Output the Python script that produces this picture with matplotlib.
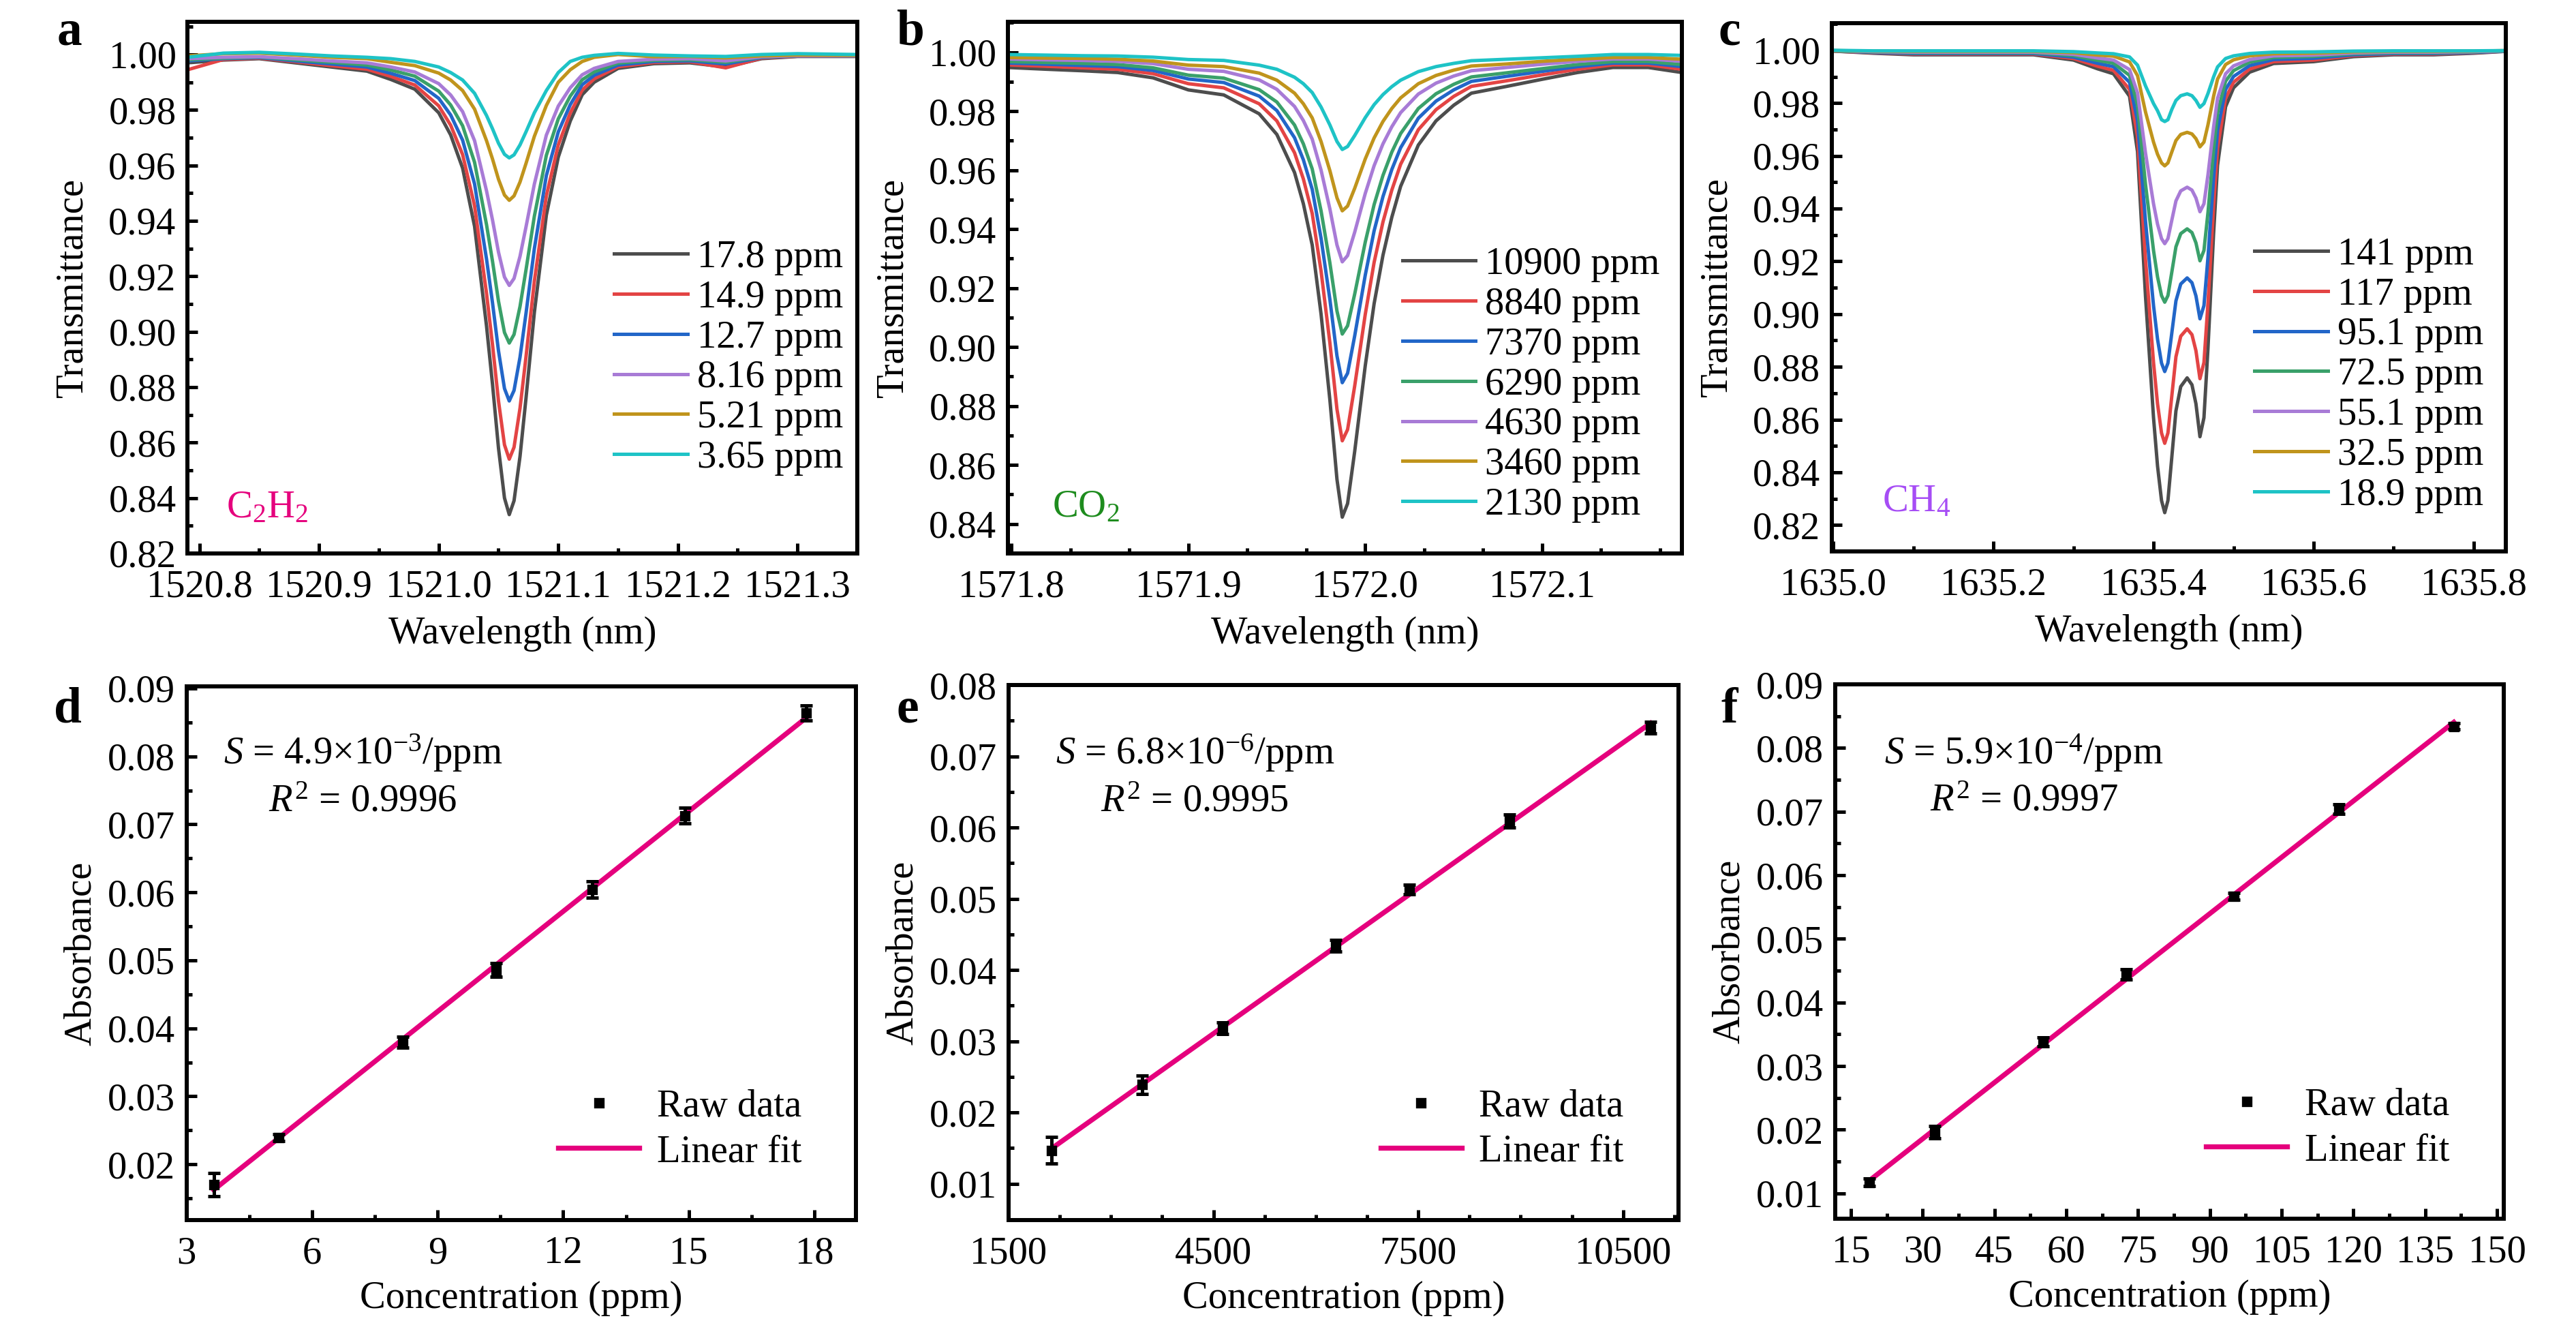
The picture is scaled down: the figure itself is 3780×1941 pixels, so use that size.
import numpy as np
import matplotlib.pyplot as plt
from matplotlib.ticker import MultipleLocator, AutoMinorLocator, FormatStrFormatter

plt.rcParams['font.family'] = ['Liberation Serif', 'DejaVu Serif']
plt.rcParams['mathtext.fontset'] = 'custom'
plt.rcParams['mathtext.rm'] = 'Liberation Serif'
plt.rcParams['mathtext.it'] = 'Liberation Serif:italic'
plt.rcParams['font.size'] = 17

# ---- spectra (a) C2H2 ----
wl_c2h2 = [1520.79, 1520.82, 1520.85, 1520.88, 1520.91, 1520.94, 1520.96, 1520.98, 1521.00, 1521.01,
           1521.02, 1521.03, 1521.04, 1521.045, 1521.05, 1521.055, 1521.059, 1521.063, 1521.068, 1521.073,
           1521.08, 1521.09, 1521.10, 1521.11, 1521.12, 1521.13, 1521.15, 1521.18, 1521.21, 1521.24,
           1521.27, 1521.30, 1521.35]
labels_c2h2 = ['17.8 ppm', '14.9 ppm', '12.7 ppm', '_nolegend_', '8.16 ppm', '5.21 ppm', '3.65 ppm']
trans_c2h2 = [
    [0.9970, 0.9980, 0.9985, 0.9970, 0.9955, 0.9940, 0.9910, 0.9875, 0.9790, 0.9710, 0.9590, 0.9380, 0.9020, 0.8810, 0.8580, 0.8400, 0.8340,
     0.8390, 0.8550, 0.8760, 0.9070, 0.9420, 0.9630, 0.9760, 0.9855, 0.9900, 0.9950, 0.9967, 0.9970, 0.9955, 0.9985, 0.9993, 0.9993],
    [0.9945, 0.9982, 0.9987, 0.9974, 0.9960, 0.9947, 0.9921, 0.9890, 0.9815, 0.9745, 0.9639, 0.9454, 0.9138, 0.8953, 0.8750, 0.8592, 0.8540,
     0.8583, 0.8724, 0.8909, 0.9182, 0.9490, 0.9674, 0.9789, 0.9872, 0.9912, 0.9956, 0.9971, 0.9974, 0.9952, 0.9987, 0.9994, 0.9994],
    [0.9977, 0.9985, 0.9989, 0.9977, 0.9966, 0.9955, 0.9932, 0.9906, 0.9842, 0.9782, 0.9691, 0.9533, 0.9262, 0.9104, 0.8931, 0.8795, 0.8750,
     0.8788, 0.8908, 0.9066, 0.9300, 0.9563, 0.9721, 0.9819, 0.9891, 0.9925, 0.9962, 0.9975, 0.9977, 0.9966, 0.9989, 0.9995, 0.9995],
    [0.9981, 0.9987, 0.9991, 0.9981, 0.9972, 0.9962, 0.9944, 0.9922, 0.9868, 0.9818, 0.9743, 0.9611, 0.9386, 0.9254, 0.9110, 0.8997, 0.8959,
     0.8990, 0.9091, 0.9223, 0.9417, 0.9636, 0.9768, 0.9850, 0.9909, 0.9937, 0.9969, 0.9979, 0.9981, 0.9972, 0.9991, 0.9996, 0.9996],
    [0.9985, 0.9990, 0.9992, 0.9985, 0.9977, 0.9970, 0.9955, 0.9937, 0.9895, 0.9854, 0.9794, 0.9689, 0.9508, 0.9403, 0.9287, 0.9197, 0.9167,
     0.9192, 0.9272, 0.9378, 0.9533, 0.9709, 0.9814, 0.9880, 0.9927, 0.9950, 0.9975, 0.9983, 0.9985, 0.9977, 0.9992, 0.9996, 0.9996],
    [0.9995, 1.0003, 1.0005, 0.9998, 0.9990, 0.9985, 0.9972, 0.9960, 0.9933, 0.9908, 0.9870, 0.9803, 0.9689, 0.9623, 0.9550, 0.9493, 0.9474,
     0.9490, 0.9540, 0.9607, 0.9705, 0.9816, 0.9900, 0.9945, 0.9975, 0.9990, 1.0000, 0.9992, 0.9993, 0.9988, 0.9995, 0.9998, 0.9997],
    [0.9990, 1.0005, 1.0008, 1.0002, 0.9995, 0.9990, 0.9985, 0.9975, 0.9955, 0.9935, 0.9908, 0.9860, 0.9780, 0.9732, 0.9680, 0.9640, 0.9627,
     0.9638, 0.9674, 0.9721, 0.9790, 0.9870, 0.9935, 0.9975, 0.9990, 0.9997, 1.0004, 0.9998, 0.9995, 0.9993, 1.0000, 1.0003, 1.0000],
]

# ---- spectra (b) CO2 ----
wl_co2 = [1571.798, 1571.82, 1571.84, 1571.86, 1571.88, 1571.90, 1571.92, 1571.94, 1571.95, 1571.96,
          1571.965, 1571.97, 1571.975, 1571.98, 1571.984, 1571.987, 1571.990, 1571.994, 1572.000, 1572.005,
          1572.010, 1572.015, 1572.020, 1572.030, 1572.040, 1572.050, 1572.060, 1572.080, 1572.100, 1572.120,
          1572.140, 1572.160, 1572.179]
labels_co2 = ['10900 ppm', '8840 ppm', '7370 ppm', '6290 ppm', '4630 ppm', '3460 ppm', '2130 ppm']
trans_co2 = [
    [0.9948, 0.9942, 0.9937, 0.9931, 0.9913, 0.9872, 0.9855, 0.9791, 0.9721, 0.9592, 0.9486, 0.9346, 0.9112, 0.8820, 0.8551, 0.8423, 0.8469,
     0.8645, 0.8937, 0.9147, 0.9311, 0.9440, 0.9545, 0.9685, 0.9767, 0.9820, 0.9861, 0.9884, 0.9908, 0.9931, 0.9948, 0.9948, 0.9931],
    [0.9957, 0.9952, 0.9947, 0.9942, 0.9927, 0.9893, 0.9879, 0.9825, 0.9767, 0.9659, 0.9570, 0.9453, 0.9258, 0.9014, 0.8789, 0.8682, 0.8720,
     0.8867, 0.9111, 0.9287, 0.9424, 0.9532, 0.9620, 0.9737, 0.9805, 0.9850, 0.9884, 0.9903, 0.9923, 0.9942, 0.9957, 0.9957, 0.9942],
    [0.9963, 0.9959, 0.9955, 0.9951, 0.9938, 0.9909, 0.9897, 0.9851, 0.9802, 0.9710, 0.9635, 0.9535, 0.9369, 0.9161, 0.8970, 0.8879, 0.8911,
     0.9037, 0.9244, 0.9394, 0.9510, 0.9602, 0.9676, 0.9776, 0.9834, 0.9872, 0.9901, 0.9918, 0.9935, 0.9951, 0.9963, 0.9963, 0.9951],
    [0.9968, 0.9965, 0.9962, 0.9958, 0.9947, 0.9922, 0.9912, 0.9873, 0.9831, 0.9753, 0.9689, 0.9604, 0.9462, 0.9285, 0.9122, 0.9044, 0.9072,
     0.9179, 0.9356, 0.9483, 0.9582, 0.9661, 0.9724, 0.9809, 0.9859, 0.9891, 0.9916, 0.9930, 0.9944, 0.9958, 0.9968, 0.9968, 0.9958],
    [0.9977, 0.9974, 0.9972, 0.9969, 0.9961, 0.9942, 0.9935, 0.9906, 0.9874, 0.9816, 0.9768, 0.9705, 0.9600, 0.9468, 0.9346, 0.9289, 0.9310,
     0.9389, 0.9521, 0.9615, 0.9689, 0.9747, 0.9795, 0.9858, 0.9895, 0.9919, 0.9937, 0.9948, 0.9959, 0.9969, 0.9977, 0.9977, 0.9969],
    [0.9982, 0.9980, 0.9979, 0.9976, 0.9970, 0.9956, 0.9951, 0.9929, 0.9905, 0.9861, 0.9825, 0.9777, 0.9697, 0.9598, 0.9506, 0.9462, 0.9478,
     0.9538, 0.9638, 0.9709, 0.9765, 0.9809, 0.9845, 0.9893, 0.9921, 0.9939, 0.9953, 0.9960, 0.9969, 0.9976, 0.9982, 0.9982, 0.9976],
    [0.9992, 0.9990, 0.9988, 0.9987, 0.9983, 0.9975, 0.9972, 0.9956, 0.9942, 0.9915, 0.9893, 0.9863, 0.9814, 0.9753, 0.9697, 0.9670, 0.9680,
     0.9717, 0.9778, 0.9822, 0.9856, 0.9883, 0.9905, 0.9934, 0.9951, 0.9962, 0.9971, 0.9976, 0.9981, 0.9986, 0.9992, 0.9992, 0.9989],
]

# ---- spectra (c) CH4 ----
wl_ch4 = [1635.00, 1635.05, 1635.10, 1635.15, 1635.20, 1635.25, 1635.30, 1635.33, 1635.35, 1635.37,
          1635.38, 1635.39, 1635.40, 1635.405, 1635.410, 1635.414, 1635.418, 1635.423, 1635.428, 1635.434,
          1635.442, 1635.448, 1635.453, 1635.458, 1635.463, 1635.468, 1635.475, 1635.48, 1635.49, 1635.50,
          1635.52, 1635.55, 1635.60, 1635.65, 1635.70, 1635.75, 1635.80, 1635.84]
labels_ch4 = ['141 ppm', '117 ppm', '95.1 ppm', '72.5 ppm', '55.1 ppm', '32.5 ppm', '18.9 ppm']
trans_ch4 = [
    [0.9997, 0.9989, 0.9983, 0.9983, 0.9983, 0.9983, 0.9963, 0.9930, 0.9911, 0.9826, 0.9616, 0.9066, 0.8607, 0.8424, 0.8293, 0.8247, 0.8293, 0.8463, 0.8633,
     0.8725, 0.8758, 0.8732, 0.8660, 0.8535, 0.8607, 0.8869, 0.9302, 0.9564, 0.9786, 0.9858, 0.9917, 0.9950, 0.9957, 0.9976, 0.9983, 0.9983, 0.9989, 0.9996],
    [0.9997, 0.9991, 0.9986, 0.9986, 0.9986, 0.9986, 0.9969, 0.9940, 0.9924, 0.9852, 0.9674, 0.9206, 0.8816, 0.8660, 0.8549, 0.8510, 0.8549, 0.8694, 0.8838,
     0.8916, 0.8944, 0.8922, 0.8861, 0.8755, 0.8816, 0.9039, 0.9407, 0.9629, 0.9818, 0.9879, 0.9929, 0.9957, 0.9963, 0.9980, 0.9986, 0.9986, 0.9991, 0.9997],
    [0.9998, 0.9992, 0.9988, 0.9988, 0.9988, 0.9988, 0.9974, 0.9951, 0.9938, 0.9879, 0.9733, 0.9351, 0.9032, 0.8905, 0.8814, 0.8782, 0.8814, 0.8932, 0.9050,
     0.9114, 0.9137, 0.9119, 0.9069, 0.8982, 0.9032, 0.9214, 0.9515, 0.9697, 0.9851, 0.9901, 0.9942, 0.9965, 0.9970, 0.9983, 0.9988, 0.9988, 0.9992, 0.9997],
    [0.9998, 0.9994, 0.9991, 0.9991, 0.9991, 0.9991, 0.9980, 0.9962, 0.9951, 0.9905, 0.9791, 0.9491, 0.9241, 0.9141, 0.9070, 0.9045, 0.9070, 0.9162, 0.9255,
     0.9305, 0.9323, 0.9309, 0.9270, 0.9202, 0.9241, 0.9384, 0.9620, 0.9762, 0.9883, 0.9923, 0.9955, 0.9973, 0.9977, 0.9987, 0.9991, 0.9991, 0.9994, 0.9998],
    [0.9999, 0.9995, 0.9993, 0.9993, 0.9993, 0.9993, 0.9985, 0.9971, 0.9963, 0.9927, 0.9839, 0.9610, 0.9418, 0.9341, 0.9286, 0.9267, 0.9286, 0.9358, 0.9429,
     0.9467, 0.9481, 0.9470, 0.9440, 0.9388, 0.9418, 0.9527, 0.9708, 0.9818, 0.9911, 0.9941, 0.9965, 0.9979, 0.9982, 0.9990, 0.9993, 0.9993, 0.9995, 0.9998],
    [0.9999, 0.9997, 0.9996, 0.9996, 0.9996, 0.9996, 0.9991, 0.9982, 0.9978, 0.9956, 0.9904, 0.9766, 0.9652, 0.9606, 0.9573, 0.9562, 0.9573, 0.9616, 0.9658,
     0.9681, 0.9689, 0.9683, 0.9665, 0.9634, 0.9652, 0.9717, 0.9825, 0.9891, 0.9946, 0.9964, 0.9979, 0.9987, 0.9989, 0.9994, 0.9996, 0.9996, 0.9997, 0.9999],
    [1.0000, 0.9998, 0.9998, 0.9998, 0.9998, 0.9998, 0.9995, 0.9990, 0.9987, 0.9975, 0.9944, 0.9865, 0.9798, 0.9771, 0.9737, 0.9730, 0.9737, 0.9777, 0.9810,
     0.9828, 0.9835, 0.9828, 0.9810, 0.9784, 0.9798, 0.9836, 0.9899, 0.9937, 0.9969, 0.9979, 0.9988, 0.9993, 0.9994, 0.9997, 0.9998, 0.9998, 0.9998, 0.9999],
]

# ---- calibration data (d-f) ----
conc_c2h2 = [3.65, 5.21, 8.16, 10.4, 12.7, 14.9, 17.8]
abs_c2h2 = [0.0170, 0.0239, 0.0380, 0.0486, 0.0604, 0.0713, 0.0864]
err_c2h2 = [0.0017, 0.0005, 0.0008, 0.0010, 0.0012, 0.0012, 0.0011]

conc_co2 = [2130, 3460, 4630, 6290, 7370, 8840, 10900]
abs_co2 = [0.0147, 0.0239, 0.0318, 0.0434, 0.0513, 0.0609, 0.0740]
err_co2 = [0.0019, 0.0013, 0.0008, 0.0008, 0.0007, 0.0009, 0.0008]

conc_ch4 = [18.9, 32.5, 55.1, 72.5, 95.1, 117, 141]
abs_ch4 = [0.0117, 0.0196, 0.0338, 0.0444, 0.0567, 0.0704, 0.0834]
err_ch4 = [0.0006, 0.0010, 0.0007, 0.0008, 0.0005, 0.0008, 0.0005]

xticks_c2h2 = [3, 6, 9, 12, 15, 18]
xticks_co2 = [1500, 4500, 7500, 10500]
xticks_ch4 = [15, 30, 45, 60, 75, 90, 105, 120, 135, 150]

colors = ['#4D4D4D', '#E34444', '#2266C8', '#3AA06A', '#A87BD6', '#C0941C', '#1EC3C6']
pink = '#E5007D'


def style(ax):
    for s in ax.spines.values():
        s.set_linewidth(1.8)
    ax.tick_params(which='both', direction='in', top=False, right=False, width=1.5)
    ax.tick_params(which='major', length=4.5)
    ax.tick_params(which='minor', length=2.5)
    ax.tick_params(axis='x', pad=7)
    ax.tick_params(axis='y', pad=5)


fig = plt.figure(figsize=(15.75, 8.0875), dpi=240)

top_pos = [[0.0728, 0.5817, 0.2600, 0.4016],
           [0.3913, 0.5817, 0.2616, 0.4016],
           [0.7111, 0.5832, 0.2616, 0.3993]]
bot_pos = [[0.0724, 0.0778, 0.2600, 0.4034],
           [0.3915, 0.0778, 0.2601, 0.4044],
           [0.7124, 0.0788, 0.2595, 0.4039]]

spectra = [
    (wl_c2h2, trans_c2h2, labels_c2h2, (1520.79, 1521.35), (0.82, 1.0117), 0.82, 0.1, 2,
     r'C$_2$H$_2$', pink, (0.058, 0.068), (0.637, 0.59)),
    (wl_co2, trans_co2, labels_co2, (1571.798, 1572.179), (0.83, 1.0102), 0.84, 0.1, 3,
     r'CO$_2$', '#1E8C1E', (0.066, 0.069), (0.585, 0.577)),
    (wl_ch4, trans_ch4, labels_ch4, (1634.998, 1635.84), (0.81, 1.0103), 0.82, 0.2, 2,
     r'CH$_4$', '#A64DF5', (0.075, 0.076), (0.627, 0.595)),
]

for pos, (wl, trans, labels, xl, yl, ymin_tick, xstep, nminor, gas, gcol, gxy, lxy) in zip(top_pos, spectra):
    ax = fig.add_axes(pos)
    for t, c, lab in zip(trans, colors, labels):
        ax.plot(wl, t, color=c, lw=1.5, label=lab)
    ax.set_xlim(*xl)
    ax.set_ylim(*yl)
    ax.xaxis.set_major_locator(MultipleLocator(xstep))
    ax.xaxis.set_minor_locator(AutoMinorLocator(nminor))
    ax.xaxis.set_major_formatter(FormatStrFormatter('%.1f'))
    ax.set_yticks(np.arange(ymin_tick, 1.001, 0.02))
    ax.yaxis.set_minor_locator(AutoMinorLocator(2))
    ax.yaxis.set_major_formatter(FormatStrFormatter('%.2f'))
    style(ax)
    ax.set_xlabel('Wavelength (nm)', labelpad=5)
    ax.set_ylabel('Transmittance', labelpad=8)
    ax.text(gxy[0], gxy[1], gas, color=gcol, transform=ax.transAxes, fontsize=17, va='baseline')
    ax.legend(loc='upper left', bbox_to_anchor=lxy, frameon=False, borderpad=0, borderaxespad=0,
              handlelength=1.9, handletextpad=0.25, labelspacing=0.12, fontsize=17)

calib = [
    (conc_c2h2, abs_c2h2, err_c2h2, (3, 19), (0.0118, 0.0903), xticks_c2h2, 2, np.arange(0.02, 0.091, 0.01),
     r'$S$ = 4.9×10$^{-3}$/ppm', r'$R^2$ = 0.9996', (0.055, 0.854), (0.122, 0.766), (0.555, 0.245)),
    (conc_co2, abs_co2, err_co2, (1500, 11311), (0.0049, 0.08), xticks_co2, 4, np.arange(0.01, 0.081, 0.01),
     r'$S$ = 6.8×10$^{-6}$/ppm', r'$R^2$ = 0.9995', (0.070, 0.852), (0.137, 0.764), (0.555, 0.245)),
    (conc_ch4, abs_ch4, err_ch4, (11.7, 151.4), (0.006, 0.09), xticks_ch4, 2, np.arange(0.01, 0.091, 0.01),
     r'$S$ = 5.9×10$^{-4}$/ppm', r'$R^2$ = 0.9997', (0.074, 0.851), (0.142, 0.763), (0.555, 0.245)),
]

for pos, (conc, ab, er, xl, yl, xt, nminor, yt, s_txt, r_txt, sxy, rxy, lxy) in zip(bot_pos, calib):
    ax = fig.add_axes(pos)
    conc = np.array(conc)
    k, b = np.polyfit(conc, ab, 1)
    xf = np.array([conc.min(), conc.max()])
    ax.plot(xf, k * xf + b, color=pink, lw=2.2, label='Linear fit', zorder=2)
    ax.errorbar(conc, ab, yerr=er, fmt='none', ecolor='k', elinewidth=1.5, capsize=2.6, capthick=1.5, zorder=3)
    ax.plot(conc, ab, 's', color='k', ms=3.5, label='Raw data', zorder=4)
    ax.set_xlim(*xl)
    ax.set_ylim(*yl)
    ax.set_xticks(xt)
    ax.xaxis.set_minor_locator(AutoMinorLocator(nminor))
    ax.set_yticks(yt)
    ax.yaxis.set_minor_locator(AutoMinorLocator(2))
    ax.yaxis.set_major_formatter(FormatStrFormatter('%.2f'))
    style(ax)
    ax.set_xlabel('Concentration (ppm)', labelpad=4)
    ax.set_ylabel('Absorbance', labelpad=4)
    ax.text(sxy[0], sxy[1], s_txt, transform=ax.transAxes, fontsize=17, va='baseline')
    ax.text(rxy[0], rxy[1], r_txt, transform=ax.transAxes, fontsize=17, va='baseline')
    h, l = ax.get_legend_handles_labels()
    ax.legend(h[::-1], l[::-1], loc='upper left', bbox_to_anchor=lxy, frameon=False, borderpad=0,
              borderaxespad=0, handlelength=2.1, handletextpad=0.45, labelspacing=0.25, numpoints=1,
              fontsize=17)

for letter, x, y in [('a', 0.022, 0.966), ('b', 0.348, 0.966), ('c', 0.667, 0.966),
                     ('d', 0.021, 0.454), ('e', 0.348, 0.454), ('f', 0.668, 0.454)]:
    fig.text(x, y, letter, fontsize=22, fontweight='bold', va='baseline', ha='left')

fig.savefig('out.png', dpi=240)
